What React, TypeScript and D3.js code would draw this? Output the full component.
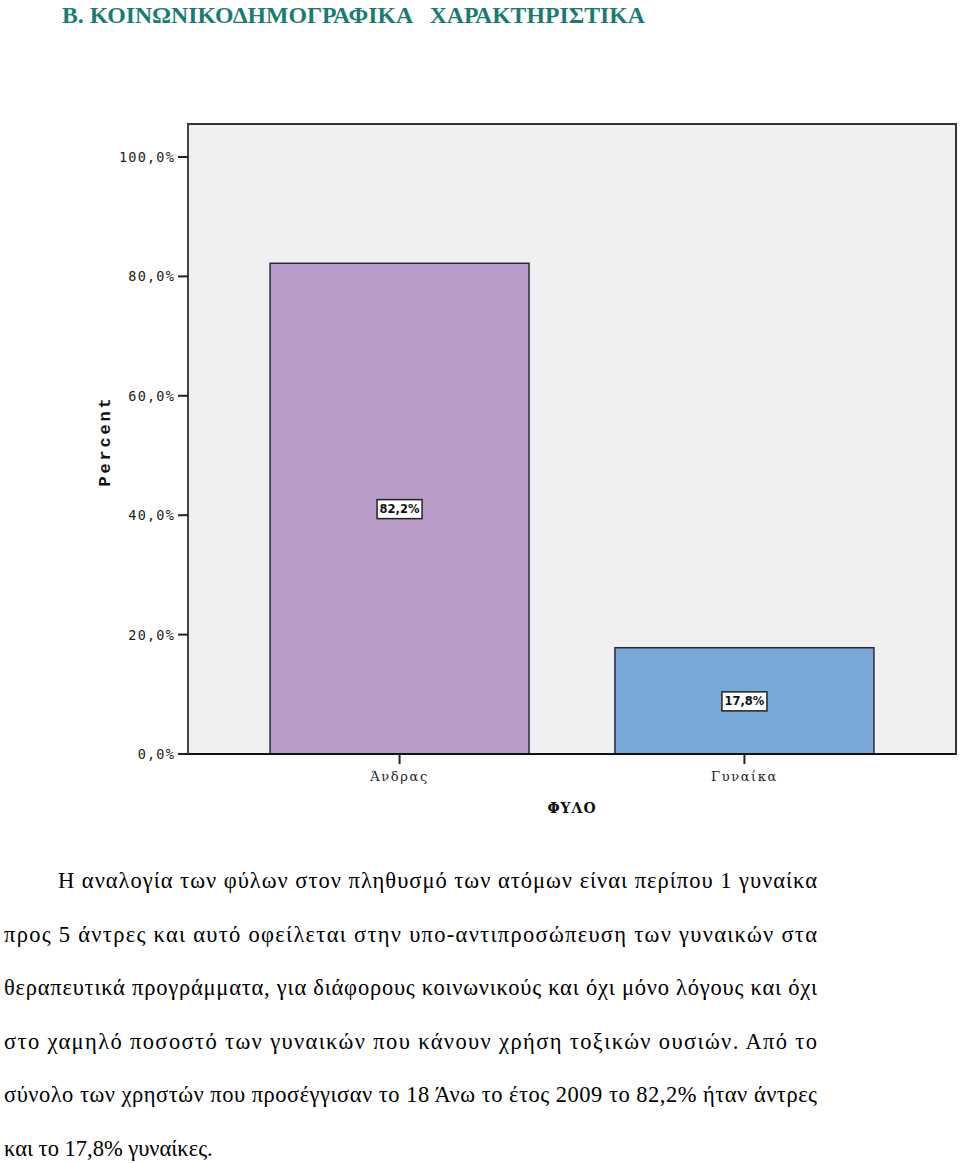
import React from "react";
import * as d3 from "d3";

const categories = ["Άνδρας", "Γυναίκα"];
const values = [82.2, 17.8];
const valueLabels = ["82,2%", "17,8%"];
const yTicks = [0, 20, 40, 60, 80, 100];
const barColors = ["#b89cc9", "#7aa8d6"];
const titleText = "Β. ΚΟΙΝΩΝΙΚΟΔΗΜΟΓΡΑΦΙΚΑ   ΧΑΡΑΚΤΗΡΙΣΤΙΚΑ";
const paragraphLines = [
  "Η αναλογία των φύλων στον πληθυσμό των ατόμων είναι περίπου 1 γυναίκα",
  "προς 5 άντρες και αυτό οφείλεται στην υπο-αντιπροσώπευση των γυναικών στα",
  "θεραπευτικά προγράμματα, για διάφορους κοινωνικούς και όχι μόνο λόγους και όχι",
  "στο χαμηλό ποσοστό των γυναικών που κάνουν χρήση τοξικών ουσιών. Από το",
  "σύνολο των χρηστών που προσέγγισαν το 18 Άνω το έτος 2009 το 82,2% ήταν άντρες",
  "και το 17,8% γυναίκες.",
];

export default function App() {
  const W = 960;
  const H = 1163;
  const plot = { left: 188, right: 956, top: 124, bottom: 754 };
  const y = d3.scaleLinear().domain([0, 100]).range([plot.bottom, 157]);
  const x = d3
    .scaleBand<string>()
    .domain(categories)
    .range([plot.left, plot.right])
    .paddingInner(0.249)
    .paddingOuter(0.238);

  const tickFont = "'DejaVu Sans Mono', monospace";
  const lineY0 = 888;
  const lineStep = 53.6;

  return (
    <svg
      width={W}
      height={H}
      viewBox={`0 0 ${W} ${H}`}
      style={{ position: "absolute", left: 0, top: 0, background: "#fff" }}
    >
      <rect x={0} y={0} width={W} height={H} fill="#fff" />
      <text
        x={62}
        y={23}
        fill="#1b7b72"
        fontFamily="'Liberation Serif', serif"
        fontWeight="bold"
        fontSize={23}
        textLength={583}
        lengthAdjust="spacingAndGlyphs"
        style={{ whiteSpace: "pre" }}
      >
        {titleText}
      </text>

      {/* plot background */}
      <rect
        x={plot.left}
        y={plot.top}
        width={plot.right - plot.left}
        height={plot.bottom - plot.top}
        fill="#f0f0f0"
        stroke="#333"
        strokeWidth={2}
      />

      {/* bars */}
      {categories.map((c, i) => (
        <rect
          key={c}
          x={x(c)}
          y={y(values[i])}
          width={x.bandwidth()}
          height={y(0) - y(values[i])}
          fill={barColors[i]}
          stroke="#2a2a3a"
          strokeWidth={1.5}
        />
      ))}

      {/* x axis line */}
      <line x1={plot.left} x2={plot.right} y1={plot.bottom} y2={plot.bottom} stroke="#111" strokeWidth={2} />
      <line x1={plot.left} x2={plot.left} y1={plot.top} y2={plot.bottom} stroke="#444" strokeWidth={2} />

      {/* y ticks */}
      {yTicks.map((t) => (
        <g key={t}>
          <line x1={178} x2={plot.left} y1={y(t)} y2={y(t)} stroke="#222" strokeWidth={2} />
          <text
            x={175}
            y={y(t) + 5}
            textAnchor="end"
            fontFamily={tickFont}
            fontSize={13.5}
            letterSpacing={1.2}
            fill="#222"
          >
            {t.toFixed(1).replace(".", ",") + "%"}
          </text>
        </g>
      ))}

      {/* x ticks & labels */}
      {categories.map((c) => {
        const cx = (x(c) as number) + x.bandwidth() / 2;
        return (
          <g key={c}>
            <line x1={cx} x2={cx} y1={plot.bottom} y2={plot.bottom + 10} stroke="#222" strokeWidth={2} />
            <text
              x={cx}
              y={plot.bottom + 27}
              textAnchor="middle"
              fontFamily="'DejaVu Serif', serif"
              fontSize={13}
              letterSpacing={1.6}
              fill="#222"
            >
              {c}
            </text>
          </g>
        );
      })}

      {/* value labels */}
      {categories.map((c, i) => {
        const cx = (x(c) as number) + x.bandwidth() / 2;
        const cy = y(values[i] / 2);
        return (
          <g key={c}>
            <rect x={cx - 22.5} y={cy - 9} width={45} height={19} fill="#fff" stroke="#222" strokeWidth={1.5} />
            <text
              x={cx}
              y={cy + 4.5}
              textAnchor="middle"
              fontFamily="'DejaVu Sans', sans-serif"
              fontSize={11.5}
              fontWeight={600}
              fill="#111"
            >
              {valueLabels[i]}
            </text>
          </g>
        );
      })}

      {/* axis titles */}
      <text
        x={572}
        y={813}
        textAnchor="middle"
        fontFamily="'DejaVu Serif', serif"
        fontWeight="bold"
        fontSize={14}
        letterSpacing={1}
        fill="#111"
      >
        ΦΥΛΟ
      </text>
      <text
        transform={`translate(110,${441}) rotate(-90)`}
        textAnchor="middle"
        fontFamily="'Liberation Mono', monospace"
        fontWeight="bold"
        fontSize={17}
        letterSpacing={2.8}
        fill="#111"
      >
        Percent
      </text>

      {/* paragraph */}
      {paragraphLines.map((line, i) => {
        const isFirst = i === 0;
        const isLast = i === paragraphLines.length - 1;
        const x0 = isFirst ? 58 : 4;
        const props: any = {};
        if (!isLast) {
          props.textLength = 817 - x0;
          props.lengthAdjust = "spacing";
        }
        return (
          <text
            key={i}
            x={x0}
            y={lineY0 + i * lineStep}
            fontFamily="'Liberation Serif', serif"
            fontSize={22.5}
            fill="#000"
            {...props}
          >
            {line}
          </text>
        );
      })}
    </svg>
  );
}
